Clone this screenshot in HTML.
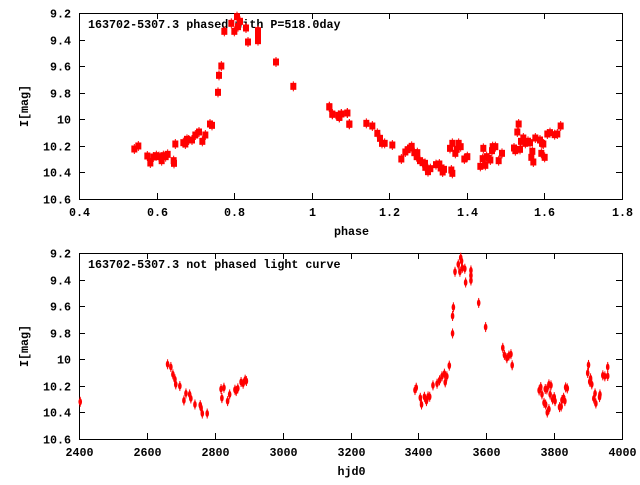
<!DOCTYPE html>
<html><head><meta charset="utf-8"><style>
body{margin:0;background:#fff;}
svg text{font-family:"Liberation Mono","DejaVu Sans Mono",monospace;font-weight:bold;font-size:11.7px;fill:#000;}
</style></head><body>
<svg id="s" width="640" height="480" xmlns="http://www.w3.org/2000/svg">
<rect width="640" height="480" fill="#fff"/>
<g id="ax" stroke="#000" stroke-width="1" fill="none"></g>
<g id="tx"></g>
<g id="pts" fill="#f00" stroke="#f00"></g>
</svg>
<script>
var NS="http://www.w3.org/2000/svg";
var ax=document.getElementById('ax'),tx=document.getElementById('tx'),pts=document.getElementById('pts');
function el(p,t,a,txt){var e=document.createElementNS(NS,t);for(var k in a)e.setAttribute(k,a[k]);if(txt!=null)e.textContent=txt;p.appendChild(e);return e;}
function frame(L,R,T,B,xt,xlab,yl,ylab,title){
 el(ax,'rect',{x:L+.5,y:T+.5,width:R-L,height:B-T});
 xt.forEach(function(v,i){var x=L+(R-L)*i/(xt.length-1);x=Math.round(x)+.5;
  el(ax,'line',{x1:x,y1:B,x2:x,y2:B-6});el(ax,'line',{x1:x,y1:T,x2:x,y2:T+6});
  el(tx,'text',{x:x,y:B+17,'text-anchor':'middle'},v);});
 yl.forEach(function(v,i){var y=T+(B-T)*i/(yl.length-1);y=Math.round(y)+.5;
  el(ax,'line',{x1:L,y1:y,x2:L+6,y2:y});el(ax,'line',{x1:R,y1:y,x2:R-6,y2:y});
  el(tx,'text',{x:L-8,y:y+4,'text-anchor':'end'},v);});
 el(tx,'text',{x:(L+R)/2+1,y:B+36,'text-anchor':'middle'},xlab);
 el(tx,'text',{x:0,y:0,'text-anchor':'middle',transform:'translate('+(L-51)+','+((T+B)/2)+') rotate(-90)'},ylab);
 el(tx,'text',{x:L+9,y:T+15},title);
}
var yl=['9.2','9.4','9.6','9.8','10','10.2','10.4','10.6'];
frame(79,622,13,199,['0.4','0.6','0.8','1','1.2','1.4','1.6','1.8'],'phase',yl,'I[mag]','163702-5307.3 phased with P=518.0day');
frame(79,622,253,439,['2400','2600','2800','3000','3200','3400','3600','3800','4000'],'hjd0',yl,'I[mag]','163702-5307.3 not phased light curve');
var a=[403,447,415,438,442,468,451,489,460,471,469,467,477,470,485,482,490,467,497,470,503,463,521,482,522,490,526,432,550,428,556,432,561,418,566,420,576,420,586,405,597,396,607,424,616,405,630,372,636,376,654,277,657,226,664,198,673,94,694,70,703,94,711,50,714,80,720,64,738,84,744,126,774,92,774,112,774,122,828,186,880,259,988,321,997,343,1015,346,1018,352,1024,342,1042,339,1048,373];
function box(x,y){el(pts,'rect',{x:x-3,y:y-3.5,width:6,height:7,stroke:'none'});el(pts,'line',{x1:x,y1:y-5,x2:x,y2:y+5,'stroke-width':1});}
for(var i=0;i<a.length;i+=2)box(a[i]/3,a[i+1]/3);
var b=[88,80,97,102,116,108,118,112,124,102,142,99,148,132,199,130,217,138,232,160,240,175,246,190,254,190,277,195,304,237,316,216,323,209,330,204,335,199,343,218,350,230,352,218,360,242,368,248,375,250,376,262,384,275,391,266,408,254,418,252,422,264,428,276,432,268,450,205,454,270,457,280,457,190,466,220,470,208,476,190,482,200,493,237,502,230,541,259,548,236,550,205,556,256,560,230,566,235,571,240,576,212,578,200,586,200,596,242,606,220,642,204,646,212,652,156,656,132,660,208,663,184,670,174,676,190,684,184,690,188,694,232,697,214,700,246,706,174,720,180,726,190,730,192,724,220,734,232,742,162,750,158,764,164,772,162,782,138];
for(var i=0;i<b.length;i+=2)box(300+b[i]/3,80+b[i+1]/3);
var c=[198,452,412,340,420,348,425,370,430,385,432,400,442,405,452,448,457,427,466,430,469,442,479,460,492,462,494,470,497,487,509,487,543,414,545,441,550,410,559,450,564,430,577,416,580,420,584,412,592,393,597,398,602,386,605,390,1018,417,1021,410,1031,440,1034,460,1041,437,1046,450,1050,436,1054,437,1062,403,1072,398,1078,388,1084,376,1090,368,1092,394,1096,376,1102,344,1110,248,1110,196,1112,170,1116,64,1124,42,1128,64,1130,22,1132,32,1134,52,1140,55,1142,96,1155,60,1155,90,1155,75,1174,157,1191,229,1233,291,1237,312,1243,322,1248,314,1253,310,1256,343,1322,418,1326,408,1329,430,1334,455,1338,460,1342,484,1346,474,1337,414,1341,415,1346,400,1349,430,1351,403,1355,445,1359,438,1361,450,1372,468,1376,466,1378,447,1382,440,1385,450,1387,409,1391,412,1441,366,1443,342,1446,392,1448,382,1451,400,1456,442,1459,427,1461,457,1470,438,1471,430,1478,373,1483,376,1490,375,1490,348];
for(var i=0;i<c.length;i+=2){var x=79+(c[i]-195)/1330*543,y=253+(c[i+1]-8)/555*186;
 el(pts,'ellipse',{cx:x,cy:y,rx:1.8,ry:3.5,stroke:'none'});el(pts,'line',{x1:x,y1:y-5,x2:x,y2:y+5,'stroke-width':1});}
</script>
</body></html>
